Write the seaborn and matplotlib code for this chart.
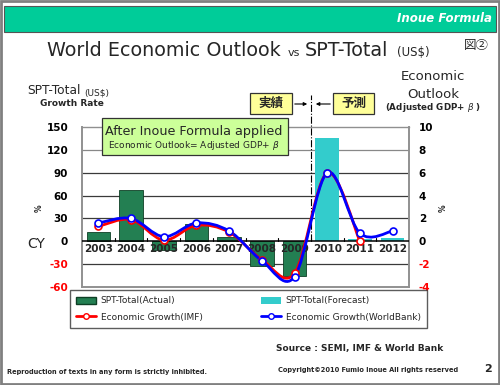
import numpy as np
import pandas as pd
import matplotlib
matplotlib.use('Agg')
import matplotlib.pyplot as plt
import seaborn as sns
from matplotlib.path import Path
from matplotlib.patches import PathPatch, Patch, Rectangle, FancyArrowPatch
from matplotlib.lines import Line2D

# ---- data ----
years = ['2003', '2004', '2005', '2006', '2007', '2008', '2009', '2010', '2011', '2012']
spt_actual = [12, 67, -11, 23, 5, -32, -46, np.nan, np.nan, np.nan]
spt_forecast = [np.nan, np.nan, np.nan, np.nan, np.nan, np.nan, np.nan, 135, 3, 4]
growth_imf = [1.3, 1.9, 0.1, 1.4, 0.8, -1.6, -2.8, 6.0, 0.0, np.nan]
growth_wb = [1.6, 2.0, 0.4, 1.6, 0.9, -1.7, -3.1, 6.0, 0.7, 0.9]
left_ticks = [150, 120, 90, 60, 30, 0, -30, -60]
right_ticks = [10, 8, 6, 4, 2, 0, -2, -4]

sns.set_style('white')
plt.rcParams['font.family'] = ['DejaVu Sans', 'Noto Sans CJK JP']

W, H = 500, 385
fig = plt.figure(figsize=(5, 3.85), dpi=100)


def fx(px):
    return px / W


def fy(py):
    return 1 - py / H


# outer frame + header band
fig.patches.append(Rectangle((fx(1), fy(384)), fx(498), 383 / H, transform=fig.transFigure,
                             fill=False, edgecolor='#808080', lw=2))
fig.patches.append(Rectangle((fx(4), fy(32)), fx(492), 26 / H, transform=fig.transFigure,
                             facecolor='#00CC99', edgecolor='#555555', lw=0.8))
fig.text(fx(492), fy(19), 'Inoue Formula', color='white', style='italic', weight='bold',
         fontsize=8.5, ha='right', va='center')

# title pieces
fig.text(fx(47), fy(50), 'World Economic Outlook', fontsize=13.8, ha='left', va='center')
fig.text(fx(288), fy(53), 'vs', fontsize=8, ha='left', va='center')
fig.text(fx(305), fy(50), 'SPT-Total', fontsize=13.8, ha='left', va='center')
fig.text(fx(397), fy(53), '(US$)', fontsize=8.5, ha='left', va='center')
fig.text(fx(464), fy(46), '図②', fontsize=9, ha='left', va='center', family='Noto Sans CJK JP')

ax = fig.add_axes([fx(82), fy(287), fx(409 - 82), (287 - 127) / H])
ax2 = ax.twinx()

# bars
df = pd.DataFrame({'year': years * 2,
                   'value': spt_actual + spt_forecast,
                   'series': ['SPT-Total(Actual)'] * 10 + ['SPT-Total(Forecast)'] * 10}).dropna()
bar_colors = {'SPT-Total(Actual)': '#237F52', 'SPT-Total(Forecast)': '#33CCCC'}
sns.barplot(data=df, x='year', y='value', hue='series', order=years,
            hue_order=list(bar_colors), palette=bar_colors, width=0.72,
            saturation=1, legend=False, ax=ax, zorder=3)
for p in ax.patches:
    if p.get_facecolor()[1] < 0.6:
        p.set_edgecolor('#0E3F25')
        p.set_linewidth(0.6)
    else:
        p.set_edgecolor('none')

ax.set_xlim(-0.5, 9.5)
ax.set_ylim(-60, 150)
ax2.set_ylim(-4, 10)
ax.set_xlabel('')
ax.set_ylabel('')
ax.set_xticks([])
ax.set_yticks(left_ticks)
ax2.set_yticks(right_ticks)
ax.set_yticklabels([str(t) for t in left_ticks], fontsize=7.5, weight='bold')
ax2.set_yticklabels([str(t) for t in right_ticks], fontsize=7.5, weight='bold')
for lab, t in zip(ax.get_yticklabels(), left_ticks):
    lab.set_color('#FF0000' if t < 0 else 'black')
for lab, t in zip(ax2.get_yticklabels(), right_ticks):
    lab.set_color('#FF0000' if t < 0 else 'black')
ax.tick_params(axis='y', length=0, pad=10)
ax2.tick_params(axis='y', length=0, pad=7)

for ys in [120, 90, 60, 30, -30]:
    ax.axhline(ys, color='#3a3a3a' if ys != 120 else '#888888', lw=0.9, zorder=1)
ax.axhline(0, color='black', lw=1.1, zorder=4)
for xb in np.arange(0.5, 9.5, 1):
    ax.plot([xb, xb], [0, 4], color='black', lw=0.8, zorder=4)
for s in ['left', 'right', 'bottom', 'top']:
    ax.spines[s].set_color('#909090')
    ax.spines[s].set_linewidth(1.4)
    ax2.spines[s].set_visible(False)
ax.spines['top'].set_linewidth(1.0)

for i, y in enumerate(years):
    ax.text(i, -4, y, fontsize=7.5, weight='bold', ha='center', va='top', zorder=6)


def smooth_path(xs, ys):
    # Excel-style smoothed line: cubic Bezier segments through every point
    pts = np.column_stack([xs, ys])
    n = len(pts)
    verts = [pts[0]]
    codes = [Path.MOVETO]
    for i in range(n - 1):
        p0 = pts[max(i - 1, 0)]
        p1 = pts[i]
        p2 = pts[i + 1]
        p3 = pts[min(i + 2, n - 1)]
        verts += [p1 + (p2 - p0) / 6, p2 - (p3 - p1) / 6, p2]
        codes += [Path.CURVE4] * 3
    return Path(verts, codes)


for vals, col in [(growth_imf, '#FF0000'), (growth_wb, '#0000FF')]:
    xs = np.array([i for i, v in enumerate(vals) if not np.isnan(v)], float)
    ys = np.array([v for v in vals if not np.isnan(v)], float)
    ax2.add_patch(PathPatch(smooth_path(xs, ys), facecolor='none', edgecolor=col, lw=2, zorder=5))
    ax2.plot(xs, ys, 'o', ms=5, mfc='white', mec=col, mew=1.2, zorder=6)

# divider between actual and forecast
ax.plot([6.5, 6.5], [0, 192], color='black', lw=0.8, ls='-.', clip_on=False, zorder=7)

# 実績 / 予測 boxes
for x0, x1, txt in [(250, 292, '実績'), (333, 374, '予測')]:
    fig.patches.append(Rectangle((fx(x0), fy(114)), fx(x1 - x0), 21 / H, transform=fig.transFigure,
                                 facecolor='#FFFF99', edgecolor='#333333', lw=0.9))
    fig.text(fx((x0 + x1) / 2), fy(103.5), txt, fontsize=9, weight='bold', ha='center', va='center',
             family='Noto Sans CJK JP')
for xs_, xe_ in [(292, 310), (333, 313)]:
    fig.patches.append(FancyArrowPatch((fx(xs_), fy(104)), (fx(xe_), fy(104)), transform=fig.transFigure,
                                       arrowstyle='-|>', mutation_scale=5, color='black', lw=0.8))

# green annotation box
fig.patches.append(Rectangle((fx(102), fy(155)), fx(186), 37 / H, transform=fig.transFigure,
                             facecolor='#CCFF99', edgecolor='#333333', lw=0.9, zorder=8))
fig.text(fx(194), fy(131), 'After Inoue Formula applied', fontsize=9.2, ha='center', va='center', zorder=9)
fig.text(fx(194), fy(146), 'Economic Outlook= Adjusted GDP+ $\\beta$', fontsize=6.5, ha='center',
         va='center', zorder=9)

# axis captions
fig.text(fx(27), fy(91), 'SPT-Total', fontsize=8.8, ha='left', va='center')
fig.text(fx(84), fy(93), '(US$)', fontsize=6.5, ha='left', va='center')
fig.text(fx(40), fy(104), 'Growth Rate', fontsize=6.5, weight='bold', ha='left', va='center')
fig.text(fx(433), fy(77), 'Economic', fontsize=9.5, ha='center', va='center')
fig.text(fx(433), fy(94), 'Outlook', fontsize=9.5, ha='center', va='center')
fig.text(fx(433), fy(108), '(Adjusted GDP+ $\\beta$ )', fontsize=6.3, weight='bold', ha='center', va='center')
fig.text(fx(27), fy(244), 'CY', fontsize=10, ha='left', va='center')
fig.text(fx(39), fy(208), '%', fontsize=5.5, weight='bold', rotation=90, ha='center', va='center')
fig.text(fx(443), fy(208), '%', fontsize=5.5, weight='bold', rotation=90, ha='center', va='center')

# legend
handles = [Patch(facecolor='#237F52', edgecolor='#0E3F25', label='SPT-Total(Actual)'),
           Patch(facecolor='#33CCCC', edgecolor='none', label='SPT-Total(Forecast)'),
           Line2D([], [], color='#FF0000', lw=2, marker='o', ms=4, mfc='white', label='Economic Growth(IMF)'),
           Line2D([], [], color='#0000FF', lw=2, marker='o', ms=4, mfc='white',
                  label='Economic Growth(WorldBank)')]
order = [0, 2, 1, 3]
leg = fig.legend([handles[i] for i in order], [handles[i].get_label() for i in order], ncol=2,
                 loc='upper left', bbox_to_anchor=(fx(70), fy(290)),
                 fontsize=6.5, frameon=True, fancybox=False, edgecolor='#333333', handlelength=2.2,
                 handleheight=0.8, borderpad=0.7, labelspacing=0.8, columnspacing=6.5,
                 handletextpad=0.5, borderaxespad=0)
leg.get_frame().set_linewidth(1.0)

# footer texts
fig.text(fx(443), fy(348), 'Source : SEMI, IMF & World Bank', fontsize=6.5, weight='bold', ha='right', va='center')
fig.text(fx(7), fy(372), 'Reproduction of texts in any form is strictly inhibited.', fontsize=4.8,
         weight='bold', ha='left', va='center')
fig.text(fx(458), fy(370), 'Copyright©2010 Fumio Inoue All rights reserved', fontsize=4.8, weight='bold',
         ha='right', va='center')
fig.text(fx(492), fy(369), '2', fontsize=8, weight='bold', ha='right', va='center')

fig.savefig('out.png', dpi=100)
